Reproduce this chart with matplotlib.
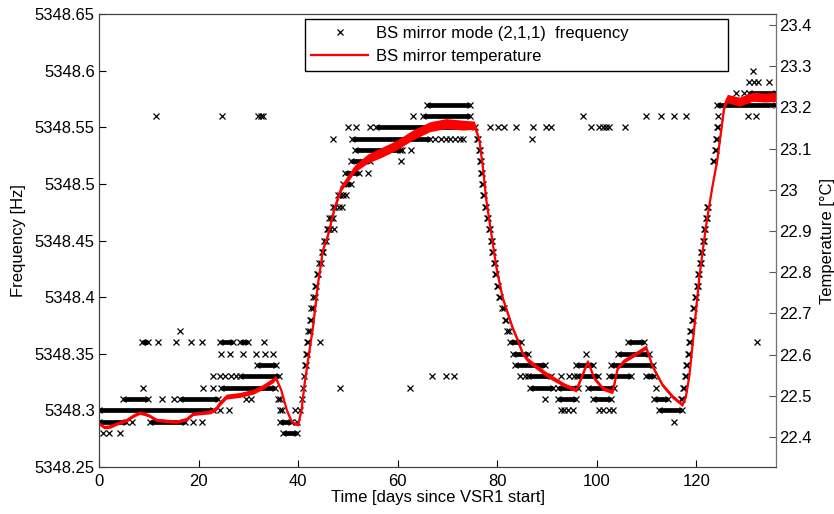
import matplotlib
matplotlib.use('Agg')
import matplotlib.pyplot as plt
from matplotlib.lines import Line2D
from matplotlib.ticker import FuncFormatter

plt.rcParams['font.family'] = ['Liberation Sans', 'DejaVu Sans']
plt.rcParams['font.size'] = 12

# --- BS mirror temperature (red trace) ---
temp_days = [0.0, 1.0, 2.2, 3.5, 5.6, 7.0, 8.2, 9.9, 11.6, 13.5, 15.6, 17.6, 18.9, 20.5,
             22.3, 23.5, 24.3, 25.6, 28.3, 31.0, 33.0, 35.0, 35.5, 36.6, 37.7, 38.7, 40.0,
             40.7, 41.3, 42.0, 43.0, 44.0, 45.0, 46.0, 47.3, 48.7, 51.4, 54.0, 56.6, 59.7,
             63.0, 66.4, 69.7, 73.1, 75.4, 76.4, 77.1, 77.8, 78.8, 79.8, 81.1, 83.1, 84.1,
             85.1, 86.1, 87.8, 90.1, 93.5, 95.9, 97.1, 98.2, 99.5, 101.2, 103.2, 104.2,
             105.5, 107.7, 109.9, 111.2, 113.2, 115.2, 117.2, 117.9, 118.6, 119.6, 120.6,
             121.9, 123.2, 124.2, 125.6, 126.2, 128.6, 131.3, 133.9, 136.0]
temp_vals = [22.433, 22.424, 22.425, 22.432, 22.441, 22.452, 22.459, 22.453, 22.441, 22.439,
             22.437, 22.443, 22.456, 22.458, 22.461, 22.468, 22.482, 22.498, 22.502, 22.510,
             22.522, 22.538, 22.544, 22.514, 22.466, 22.437, 22.429, 22.466, 22.530, 22.587,
             22.668, 22.773, 22.854, 22.890, 22.955, 23.005, 23.052, 23.076, 23.090, 23.108,
             23.133, 23.153, 23.161, 23.157, 23.157, 23.121, 23.056, 22.975, 22.894, 22.813,
             22.737, 22.664, 22.635, 22.603, 22.587, 22.571, 22.550, 22.526, 22.514, 22.550,
             22.583, 22.542, 22.518, 22.510, 22.567, 22.585, 22.601, 22.618, 22.571, 22.526,
             22.498, 22.478, 22.498, 22.550, 22.668, 22.789, 22.910, 23.007, 23.072, 23.202,
             23.222, 23.214, 23.226, 23.224, 23.226]
# half width of the noisy red band
temp_noise = [0.004] * 14 + [0.005, 0.005] + [0.006] * 6 + [0.005] + [0.003] * 10 + \
             [0.004, 0.006, 0.007, 0.009, 0.011] + [0.012] * 6 + [0.010, 0.005, 0.004, 0.004,
             0.004, 0.005] + [0.006] * 7 + [0.005, 0.005, 0.004, 0.004, 0.005, 0.005, 0.005,
             0.004] + [0.005] * 6 + [0.004] + [0.003] * 7 + [0.008, 0.010] + [0.011] * 4

# --- BS mirror mode (2,1,1) frequency, quantised in 0.01 Hz steps ---
# dense runs of points: (frequency, [(first day, last day), ...])
run_rows = [
    (5348.28, [(37.0, 39.7)]),
    (5348.29, [(0.0, 5.5), (10.2, 17.3), (36.3, 38.5)]),
    (5348.30, [(0.0, 23.0), (112.5, 117.2)]),
    (5348.31, [(4.9, 9.9), (16.2, 24.0), (92.2, 95.8), (99.2, 102.9), (111.5, 114.2)]),
    (5348.32, [(24.6, 35.3), (86.5, 91.1), (92.2, 96.2), (98.2, 103.5)]),
    (5348.33, [(28.3, 36.2), (86.1, 90.8), (96.1, 100.2), (102.5, 106.9), (109.9, 111.5)]),
    (5348.34, [(31.8, 35.5), (83.5, 89.5), (95.8, 99.2), (102.9, 111.3)]),
    (5348.35, [(83.1, 86.1), (104.2, 110.5)]),
    (5348.36, [(8.6, 9.9), (24.3, 27.0), (28.3, 30.0), (82.5, 84.8), (106.2, 109.5)]),
    (5348.50, [(49.0, 50.6)]),
    (5348.51, [(49.5, 52.3)]),
    (5348.52, [(50.7, 54.5)]),
    (5348.53, [(51.4, 60.4)]),
    (5348.54, [(50.8, 66.4)]),
    (5348.55, [(55.7, 75.6)]),
    (5348.56, [(65.0, 74.6)]),
    (5348.57, [(65.8, 74.6), (124.2, 136.0)]),
    (5348.58, [(130.5, 136.0)]),
]
# single points: (frequency, [days])
dot_rows = [
    (5348.28, [0.9, 2.0, 4.2]),
    (5348.29, [6.6, 18.9, 20.6, 39.7, 115.6]),
    (5348.30, [24.3, 26.2, 36.3, 36.8, 39.4, 40.3, 92.8, 93.5, 94.3, 95.3, 100.5, 101.2,
               102.5, 103.2]),
    (5348.31, [12.6, 15.0, 29.6, 30.6, 36.0, 36.3, 40.7, 89.5, 116.9, 117.1]),
    (5348.32, [8.9, 20.9, 22.9, 41.0, 48.5, 62.5, 111.9, 117.3, 117.5]),
    (5348.33, [23.0, 24.3, 25.4, 26.5, 27.5, 41.2, 66.9, 69.7, 71.4, 84.5, 85.5, 92.8, 94.5,
               95.5, 117.7, 117.9]),
    (5348.34, [41.3, 41.5, 118.0, 118.2]),
    (5348.35, [24.6, 26.3, 29.0, 31.6, 33.3, 35.0, 41.5, 41.7, 97.8, 118.3, 118.5]),
    (5348.36, [11.9, 15.4, 18.5, 20.6, 33.2, 41.7, 42.0, 44.3, 118.5, 118.7, 132.1]),
    (5348.37, [16.2, 42.0, 42.3, 82.0, 82.3, 118.8, 119.0]),
    (5348.38, [42.3, 42.6, 81.5, 81.8, 119.1, 119.3]),
    (5348.39, [42.6, 42.9, 81.0, 81.3, 119.4, 119.6]),
    (5348.40, [43.0, 43.3, 80.4, 80.6, 119.8, 120.0]),
    (5348.41, [43.3, 43.6, 80.0, 80.2, 120.1, 120.3]),
    (5348.42, [43.7, 44.0, 79.6, 79.8, 120.4, 120.6]),
    (5348.43, [44.2, 44.5, 79.3, 79.5, 120.7, 120.9]),
    (5348.44, [44.7, 45.0, 79.0, 79.2, 121.0, 121.2]),
    (5348.45, [45.2, 45.5, 78.7, 78.9, 121.3, 121.5]),
    (5348.46, [45.7, 46.0, 46.4, 47.3, 78.3, 78.5, 121.6, 121.8]),
    (5348.47, [46.3, 46.7, 47.0, 77.9, 78.1, 121.9, 122.1]),
    (5348.48, [47.0, 47.4, 48.2, 48.8, 77.5, 77.7, 122.2, 122.4]),
    (5348.49, [48.0, 48.5, 49.0, 49.6, 77.2, 77.4]),
    (5348.50, [77.0, 77.2]),
    (5348.51, [54.0, 76.8, 77.0]),
    (5348.52, [60.6, 76.5, 76.7, 123.4, 123.6]),
    (5348.53, [60.9, 62.6, 76.3, 76.5, 123.7, 123.9]),
    (5348.54, [47.0, 67.5, 68.7, 69.8, 70.5, 71.5, 72.5, 73.1, 76.0, 76.2, 87.0, 124.0, 124.1]),
    (5348.55, [50.0, 51.7, 54.4, 78.6, 80.2, 81.3, 83.8, 87.1, 89.8, 90.8, 98.8, 100.5, 101.2,
               101.8, 102.5, 105.6, 124.2, 124.3]),
    (5348.56, [11.4, 24.7, 32.0, 32.5, 33.0, 63.0, 97.2, 109.9, 112.9, 115.5, 117.9, 124.4,
               130.3, 132.0]),
    (5348.58, [127.9, 129.6]),
    (5348.59, [130.6, 131.5, 132.3, 134.6]),
    (5348.60, [131.3]),
]

x_ticks = [0, 20, 40, 60, 80, 100, 120]
freq_ticks = [5348.25, 5348.3, 5348.35, 5348.4, 5348.45, 5348.5, 5348.55, 5348.6, 5348.65]
temp_ticks = [22.4, 22.5, 22.6, 22.7, 22.8, 22.9, 23.0, 23.1, 23.2, 23.3, 23.4]

freq_label = 'BS mirror mode (2,1,1)  frequency'
temp_label = 'BS mirror temperature'

fig = plt.figure(figsize=(8.34, 5.14), dpi=100)
ax = fig.add_axes([0.1187, 0.0914, 0.8118, 0.8814])
ax2 = ax.twinx()

# frequency points
for hz, runs in run_rows:
    for a, b in runs:
        ax.hlines(hz, a, b, color='k', lw=3.4)
        ax.plot([a, b], [hz, hz], ls='none', marker='x', color='k', ms=4.5, mew=0.9)
for hz, days in dot_rows:
    ax.plot(days, [hz] * len(days), ls='none', marker='x', color='k', ms=4.5, mew=0.9)

# temperature
lo = [t - n for t, n in zip(temp_vals, temp_noise)]
hi = [t + n for t, n in zip(temp_vals, temp_noise)]
ax2.fill_between(temp_days, lo, hi, color='red', lw=0)
temp_line, = ax2.plot(temp_days, temp_vals, color='red', lw=1.6)

ax.set_xlim(0, 136)
ax.set_ylim(5348.25, 5348.65)
ax2.set_ylim(22.327, 23.427)

ax.set_xticks(x_ticks)
ax.set_yticks(freq_ticks)
ax2.set_yticks(temp_ticks)
fmt = FuncFormatter(lambda v, p: '%g' % round(v, 4))
ax.yaxis.set_major_formatter(fmt)
ax2.yaxis.set_major_formatter(fmt)

ax.tick_params(axis='both', direction='in', length=5, width=0.8, colors='k', labelsize=12)
ax.tick_params(axis='x', pad=5)
ax.tick_params(axis='y', pad=3)
ax2.tick_params(axis='y', direction='in', length=5, width=0.8, color='0.35', pad=2,
                labelsize=12)

for a in (ax, ax2):
    for s in a.spines.values():
        s.set_linewidth(0.8)
        s.set_color('0.25')
ax2.spines['right'].set_color('0.45')

ax.set_xlabel('Time [days since VSR1 start]', labelpad=1)
ax.set_ylabel('Frequency [Hz]', labelpad=6)
ax2.set_ylabel('Temperature [°C]', labelpad=6)

freq_handle = Line2D([], [], ls='none', marker='x', color='k', ms=4.5, mew=0.9)
leg = ax2.legend([freq_handle, temp_line], [freq_label, temp_label], loc='upper left',
                 bbox_to_anchor=(0.304, 0.862, 0.625, 0.127), mode='expand',
                 borderaxespad=0, fancybox=False, framealpha=1, edgecolor='k',
                 handlelength=3.4, handletextpad=0.45, labelspacing=0.5, numpoints=1,
                 fontsize=12)
leg.get_frame().set_linewidth(1.0)

fig.savefig('out.png', dpi=100)
